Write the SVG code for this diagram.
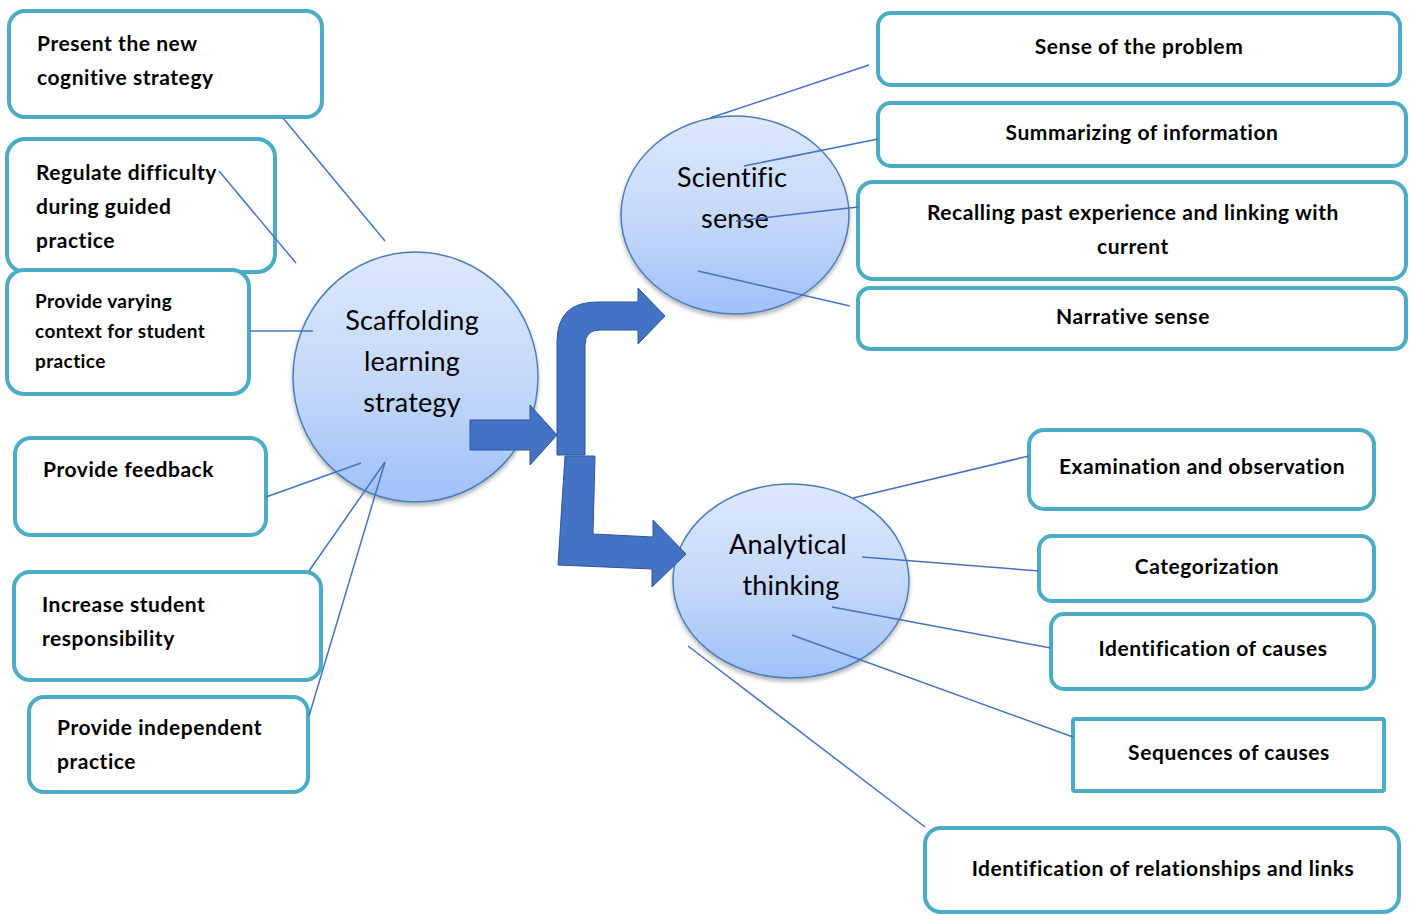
<svg xmlns="http://www.w3.org/2000/svg" width="1411" height="915" viewBox="0 0 1411 915">
<defs>
<linearGradient id="eg" x1="0" y1="0" x2="0" y2="1">
<stop offset="0" stop-color="#DDE8FC"/>
<stop offset="0.5" stop-color="#C6D9FA"/>
<stop offset="1" stop-color="#9FC0F8"/>
</linearGradient>
<filter id="sh" x="-10%" y="-10%" width="120%" height="125%">
<feGaussianBlur in="SourceAlpha" stdDeviation="2"/>
<feOffset dx="0" dy="3" result="b"/>
<feComponentTransfer><feFuncA type="linear" slope="0.3"/></feComponentTransfer>
<feMerge><feMergeNode/><feMergeNode in="SourceGraphic"/></feMerge>
</filter>
</defs>
<style>
.box{fill:#fff;stroke:#4BACC6;stroke-width:4}
.ell{fill:url(#eg);stroke:#4A7EBB;stroke-width:1.5}
.t{font-family:Lato,"Liberation Sans",sans-serif;font-weight:bold;font-size:21px;letter-spacing:0.55px;fill:#000}
.ts{font-family:Lato,"Liberation Sans",sans-serif;font-weight:bold;font-size:19px;letter-spacing:0.4px;fill:#000}
.c{text-anchor:middle}
.et{font-family:Lato,"Open Sans",sans-serif;font-size:27px;letter-spacing:0.2px;fill:#000;text-anchor:middle}
.ln{stroke:#4472C4;stroke-width:1.5;fill:none}
.ar{fill:#4472C4;stroke:#2F5597;stroke-width:1}
</style>

<g id="n-scaffolding">
<ellipse class="ell" filter="url(#sh)" cx="415.5" cy="377" rx="122.5" ry="125"/>
<text class="et" x="412" y="330">Scaffolding</text>
<text class="et" x="412" y="371">learning</text>
<text class="et" x="412" y="412">strategy</text>
</g>
<g id="n-scientific">
<ellipse class="ell" filter="url(#sh)" cx="735" cy="215" rx="114" ry="99"/>
<text class="et" x="732" y="187">Scientific</text>
<text class="et" x="735" y="228">sense</text>
</g>
<g id="n-analytical">
<ellipse class="ell" filter="url(#sh)" cx="791" cy="581" rx="118" ry="97"/>
<text class="et" x="788" y="554">Analytical</text>
<text class="et" x="791" y="595">thinking</text>
</g>

<g id="n-present">
<rect class="box" x="9" y="11" width="313" height="106" rx="16"/>
<text class="t" x="37" y="51">Present the new</text>
<text class="t" x="37" y="85">cognitive strategy</text>
</g>
<g id="n-regulate">
<rect class="box" x="7" y="139" width="268" height="133" rx="18"/>
<text class="t" x="36" y="180">Regulate difficulty</text>
<text class="t" x="36" y="214">during guided</text>
<text class="t" x="36" y="248">practice</text>
</g>
<g id="n-varying">
<rect class="box" x="7" y="270" width="242" height="124" rx="17"/>
<text class="ts" x="35" y="308">Provide varying</text>
<text class="ts" x="35" y="338">context for student</text>
<text class="ts" x="35" y="368">practice</text>
</g>
<g id="n-feedback">
<rect class="box" x="15" y="438" width="251" height="97" rx="16"/>
<text class="t" x="43" y="477">Provide feedback</text>
</g>
<g id="n-increase">
<rect class="box" x="14" y="572" width="307" height="108" rx="16"/>
<text class="t" x="42" y="612">Increase student</text>
<text class="t" x="42" y="646">responsibility</text>
</g>
<g id="n-independent">
<rect class="box" x="29" y="697" width="279" height="95" rx="15"/>
<text class="t" x="57" y="735">Provide independent</text>
<text class="t" x="57" y="769">practice</text>
</g>

<g id="n-sense-problem">
<rect class="box" x="878" y="13" width="522" height="72" rx="13"/>
<text class="t c" x="1139" y="54">Sense of the problem</text>
</g>
<g id="n-summarizing">
<rect class="box" x="878" y="103" width="528" height="63" rx="13"/>
<text class="t c" x="1142" y="140">Summarizing of information</text>
</g>
<g id="n-recalling">
<rect class="box" x="858" y="182" width="548" height="97" rx="15"/>
<text class="t c" x="1133" y="220">Recalling past experience and linking with</text>
<text class="t c" x="1133" y="254">current</text>
</g>
<g id="n-narrative">
<rect class="box" x="858" y="288" width="548" height="61" rx="12"/>
<text class="t c" x="1133" y="324">Narrative sense</text>
</g>
<g id="n-examination">
<rect class="box" x="1029" y="430" width="345" height="79" rx="15"/>
<text class="t c" x="1202" y="474">Examination and observation</text>
</g>
<g id="n-categorization">
<rect class="box" x="1039" y="536" width="335" height="65" rx="13"/>
<text class="t c" x="1207" y="574">Categorization</text>
</g>
<g id="n-causes">
<rect class="box" x="1051" y="614" width="323" height="75" rx="13"/>
<text class="t c" x="1213" y="656">Identification of causes</text>
</g>
<g id="n-sequences">
<rect class="box" x="1073" y="719" width="311" height="72" rx="2"/>
<text class="t c" x="1229" y="760">Sequences of causes</text>
</g>
<g id="n-relationships">
<rect class="box" x="925" y="828" width="474" height="84" rx="16"/>
<text class="t c" x="1163" y="876">Identification of relationships and links</text>
</g>

<g id="arrows">
<path class="ar" d="M470,420 L530,420 L530,405 L557,435 L530,465 L530,450 L470,450 Z"/>
<path class="ar" d="M557,455 L557,342 Q557,302 597,302 L638,302 L638,288 L665,316 L638,344 L638,330 L600,330 Q585,330 585,345 L585,455 Z"/>
<path class="ar" d="M565,456 L595,456 L593,534 L653,537 L653,520 L686,554 L652,587 L652,569 L558,565 Z"/>
</g>

<g id="connectors">
<line class="ln" x1="283" y1="118" x2="385" y2="241"/>
<line class="ln" x1="219" y1="171" x2="296" y2="263"/>
<line class="ln" x1="250" y1="331" x2="313" y2="331" stroke-width="2.2"/>
<line class="ln" x1="266" y1="497" x2="361" y2="463"/>
<line class="ln" x1="309" y1="571" x2="385" y2="462"/>
<line class="ln" x1="309" y1="716" x2="385" y2="462"/>
<line class="ln" x1="710" y1="118" x2="869" y2="65"/>
<line class="ln" x1="744" y1="166" x2="878" y2="139"/>
<line class="ln" x1="736" y1="221" x2="858" y2="207"/>
<line class="ln" x1="698" y1="271" x2="850" y2="306"/>
<line class="ln" x1="853" y1="498" x2="1029" y2="456"/>
<line class="ln" x1="862" y1="557" x2="1039" y2="571"/>
<line class="ln" x1="832" y1="607" x2="1051" y2="648"/>
<line class="ln" x1="792" y1="635" x2="1073" y2="737"/>
<line class="ln" x1="688" y1="646" x2="925" y2="827"/>
</g>
</svg>
